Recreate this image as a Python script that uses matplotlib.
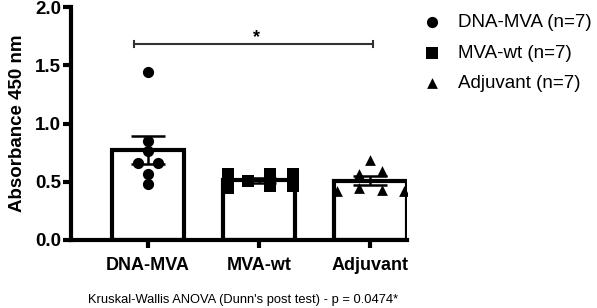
import matplotlib
matplotlib.use("Agg")
import matplotlib.pyplot as plt
import numpy as np

plt.rcParams['font.family'] = ['Liberation Sans', 'DejaVu Sans']

# absorbance values
groups = ["DNA-MVA", "MVA-wt", "Adjuvant"]
legend_labels = ["DNA-MVA (n=7)", "MVA-wt (n=7)", "Adjuvant (n=7)"]
dna_mva = [1.44, 0.85, 0.76, 0.66, 0.66, 0.57, 0.48]
mva_wt = [0.57, 0.45, 0.51, 0.57, 0.46, 0.57, 0.46]
adjuvant = [0.69, 0.57, 0.59, 0.45, 0.43, 0.42, 0.42]
values = [dna_mva, mva_wt, adjuvant]
yticks = [0.0, 0.5, 1.0, 1.5, 2.0]
footnote = "Kruskal-Wallis ANOVA (Dunn's post test) - p = 0.0474*"

# horizontal spread of the points (layout only)
spread = [[0, 0, 0, -0.09, 0.09, 0, 0],
          [-0.28, -0.28, -0.1, 0.1, 0.1, 0.3, 0.3],
          [0, -0.1, 0.1, -0.1, 0.1, -0.3, 0.3]]
markers = ["o", "s", "^"]
msizes = [65, 75, 60]

fig = plt.figure(figsize=(5.97, 3.08), dpi=100)
ax = fig.add_axes([0.119, 0.221, 0.563, 0.756])

x = np.arange(len(groups))
means = [np.mean(v) for v in values]
sems = [np.std(v, ddof=1) / np.sqrt(len(v)) for v in values]

ax.bar(x, means, width=0.65, color="white", edgecolor="black", linewidth=3, zorder=1)
handles = []
for i, v in enumerate(values):
    h = ax.scatter(x[i] + np.array(spread[i]), v, marker=markers[i], s=msizes[i],
                   color="black", zorder=3, linewidths=0)
    handles.append(h)
ax.errorbar(x, means, yerr=sems, fmt="none", ecolor="black", elinewidth=1.8,
            capsize=12, capthick=1.8, zorder=4)

# significance bracket
ax.plot([-0.12, 2.02], [1.686, 1.686], color="#333333", lw=1.5)
ax.plot([-0.12, -0.12], [1.66, 1.71], color="#333333", lw=1.5)
ax.plot([2.02, 2.02], [1.66, 1.71], color="#333333", lw=1.5)
ax.text(0.98, 1.74, "*", ha="center", va="center", fontsize=13, fontweight="bold")

ax.set_xlim(-0.69, 2.33)
ax.set_ylim(0, 2.0)
ax.set_yticks(yticks)
ax.set_yticklabels([f"{t:.1f}" for t in yticks], fontsize=13.5, fontweight="bold")
ax.set_xticks(x)
ax.set_xticklabels(groups, fontsize=13, fontweight="bold")
ax.set_ylabel("Absorbance 450 nm", fontsize=13.5, fontweight="bold", labelpad=7)
ax.tick_params(width=3, length=5.5)
ax.tick_params(axis="x", pad=7)
ax.tick_params(axis="y", pad=1.5)
for s in ["top", "right"]:
    ax.spines[s].set_visible(False)
for s in ["left", "bottom"]:
    ax.spines[s].set_linewidth(3)

fig.legend(handles, legend_labels, loc="upper left", bbox_to_anchor=(0.692, 0.955),
           frameon=False, fontsize=13.5, handletextpad=0.4, labelspacing=0.72,
           borderpad=0, borderaxespad=0, scatterpoints=1, markerscale=1.0)

fig.text(0.407, 0.026, footnote, ha="center", va="center", fontsize=9.3)

fig.savefig("out.png", dpi=100)
